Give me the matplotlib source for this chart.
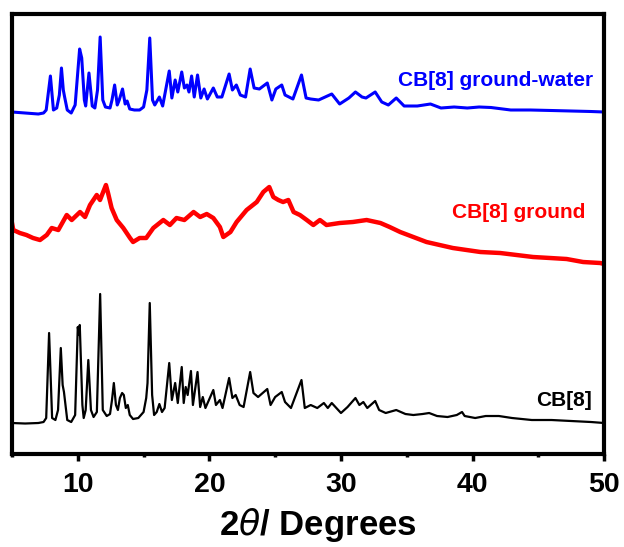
import matplotlib
matplotlib.use("Agg")
import matplotlib.pyplot as plt
import matplotlib.ticker as ticker

plt.rcParams["font.family"] = ["Liberation Sans", "DejaVu Sans"]
plt.rcParams["mathtext.fontset"] = "dejavusans"

# traced patterns (2theta in degrees, intensity in a.u., offsets already included)
cb8_x = [5.0, 6.0, 7.0, 7.4, 7.6, 7.82, 8.05, 8.3, 8.5, 8.71, 8.85, 8.95, 9.2, 9.5, 9.8,
         10.0, 10.08, 10.15, 10.35, 10.45, 10.6, 10.8, 11.0, 11.2, 11.45, 11.7, 11.9,
         12.2, 12.45, 12.6, 12.74, 12.9, 13.05, 13.2, 13.37, 13.5, 13.65, 13.8, 13.95,
         14.2, 14.6, 15.0, 15.2, 15.3, 15.47, 15.65, 15.8, 16.0, 16.2, 16.4, 16.6, 16.95,
         17.15, 17.4, 17.6, 17.9, 18.05, 18.2, 18.35, 18.6, 18.75, 19.1, 19.3, 19.5, 19.7,
         20.3, 20.5, 20.8, 21.0, 21.5, 21.75, 22.0, 22.3, 22.6, 23.1, 23.35, 23.7, 24.4,
         24.65, 25.0, 25.5, 25.75, 26.2, 27.0, 27.25, 27.7, 28.2, 28.7, 29.0, 29.3, 30.0,
         30.5, 31.1, 31.4, 31.7, 32.0, 32.6, 32.9, 33.4, 34.2, 34.9, 35.5, 36.2, 36.7,
         37.3, 38.1, 38.8, 39.2, 39.4, 40.2, 41.0, 42.0, 43.0, 44.5, 46.0, 47.5, 49.0, 50.0]
cb8_y = [31, 30.5, 31, 32, 36, 121, 36, 34, 44, 106, 69, 62, 34, 32, 39,
         127, 119, 129, 49, 36, 44, 94, 44, 37, 42, 160, 44,
         38, 40, 54, 71, 49, 44, 56, 61, 59, 46, 49, 39,
         35, 36, 42, 56, 71, 151, 59, 39, 42, 50, 42, 46, 91,
         54, 71, 51, 87, 51, 67, 59, 83, 49, 82, 47, 57, 46,
         64, 49, 54, 46, 76, 56, 59, 49, 47, 82, 61, 57, 65,
         49, 57, 62, 52, 46, 74, 46, 49, 46, 51, 46, 51, 41,
         47, 56, 49, 52, 46, 53, 44, 41, 44, 40, 39, 40, 41,
         38, 37, 39, 42, 38, 36, 38, 38, 36, 34, 34, 33, 32, 31]

ground_x = [5.0, 5.1, 5.6, 6.1, 6.6, 7.13, 7.64, 8.02, 8.52, 9.16, 9.54, 10.17, 10.55,
            10.93, 11.44, 11.69, 12.14, 12.3, 12.57, 12.96, 13.46, 13.97, 14.2, 14.7,
            15.2, 15.74, 16.5, 17.0, 17.5, 18.1, 18.8, 19.3, 19.8, 20.3, 20.8, 21.06,
            21.6, 22.07, 22.83, 23.6, 24.1, 24.55, 24.86, 25.24, 25.6, 26.0, 26.4, 26.88,
            27.4, 27.9, 28.4, 28.9, 29.9, 30.9, 31.95, 33.0, 33.7, 34.5, 35.5, 36.5, 37.5,
            38.5, 39.55, 40.6, 42.1, 43.35, 44.6, 45.9, 47.15, 48.4, 49.7, 50.0]
ground_y = [231, 224, 221, 219, 216, 214, 219, 226, 224, 239, 234, 242, 237,
            249, 259, 254, 269, 261, 246, 234, 226, 216, 212, 216,
            216, 226, 234, 229, 236, 234, 242, 237, 240, 236, 227, 217,
            222, 232, 244, 252, 262, 267, 257, 254, 252, 254, 242, 239,
            234, 229, 234, 229, 231, 232, 234, 231, 227, 222, 217, 212, 209,
            206, 204, 202, 201, 199, 197, 196, 195, 192, 191, 190]

water_x = [5.0, 6.0, 7.0, 7.4, 7.6, 7.92, 8.15, 8.4, 8.6, 8.76, 8.9, 9.0, 9.2, 9.5, 9.8,
           10.14, 10.3, 10.5, 10.6, 10.85, 11.1, 11.3, 11.5, 11.7, 11.9, 12.1, 12.45, 12.6,
           12.8, 13.0, 13.15, 13.4, 13.6, 13.75, 13.95, 14.3, 14.7, 15.0, 15.25, 15.47,
           15.68, 15.85, 16.2, 16.45, 16.95, 17.15, 17.4, 17.6, 17.9, 18.1, 18.3, 18.45,
           18.65, 18.85, 19.1, 19.35, 19.6, 19.85, 20.3, 20.6, 20.95, 21.5, 21.75, 22.05,
           22.35, 22.75, 23.1, 23.4, 23.8, 24.4, 24.75, 25.05, 25.5, 25.75, 26.35, 27.0,
           27.35, 27.7, 28.3, 28.8, 29.3, 29.9, 30.6, 31.1, 31.6, 31.9, 32.6, 33.1, 33.6,
           34.2, 34.8, 35.8, 36.8, 37.6, 38.6, 39.6, 40.5, 41.4, 42.9, 44.4, 46.0, 47.5,
           49.0, 50.0]
water_y = [342, 341, 340, 341, 344, 378, 344, 346, 359, 386, 364, 357, 344, 341, 349,
           405, 396, 354, 348, 381, 348, 346, 364, 417, 354, 347, 346, 354,
           369, 349, 354, 365, 350, 353, 345, 344, 344, 347, 364, 416,
           354, 349, 357, 348, 383, 356, 374, 362, 382, 366, 369, 362,
           378, 357, 379, 356, 365, 355, 366, 357, 357, 380, 364, 369,
           359, 357, 385, 366, 365, 371, 354, 365, 369, 359, 355, 379,
           356, 355, 354, 357, 360, 350, 356, 362, 357, 356, 362, 352, 349,
           356, 348, 348, 350, 346, 347, 346, 347, 346.5, 344, 344, 343.5, 343,
           342.5, 342]

labels = ["CB[8]", "CB[8] ground", "CB[8] ground-water"]
colors = ["black", "#ff0000", "#0000ff"]

fig = plt.figure(figsize=(6.24, 5.47), dpi=100)
ax = fig.add_axes([0.0192, 0.170, 0.949, 0.8044])

ax.plot(cb8_x, cb8_y, color=colors[0], lw=1.6)
ax.plot(ground_x, ground_y, color=colors[1], lw=3.2)
ax.plot(water_x, water_y, color=colors[2], lw=2.2)

ax.text(49.1, 54, labels[0], color=colors[0], fontsize=15, fontweight="bold",
        ha="right", va="center")
ax.text(48.55, 242, labels[1], color=colors[1], fontsize=15, fontweight="bold",
        ha="right", va="center")
ax.text(49.15, 374, labels[2], color=colors[2], fontsize=15, fontweight="bold",
        ha="right", va="center")

ax.set_xlim(5, 50)
ax.set_ylim(0, 440)
ax.xaxis.set_major_locator(ticker.MultipleLocator(10))
ax.xaxis.set_minor_locator(ticker.MultipleLocator(5))
ax.tick_params(axis="x", which="major", direction="out", length=5, width=2.5,
               labelsize=20.5, pad=8)
ax.tick_params(axis="x", which="minor", direction="out", length=2, width=2.5)
ax.tick_params(axis="y", left=False, labelleft=False)
for label in ax.get_xticklabels():
    label.set_fontweight("bold")
for spine in ax.spines.values():
    spine.set_linewidth(3)

ax.set_xlabel(r"2$\theta$/ Degrees", fontsize=25, fontweight="bold", labelpad=6)
ax.xaxis.label.set_x(0.517)

fig.savefig("out.png", dpi=100)
